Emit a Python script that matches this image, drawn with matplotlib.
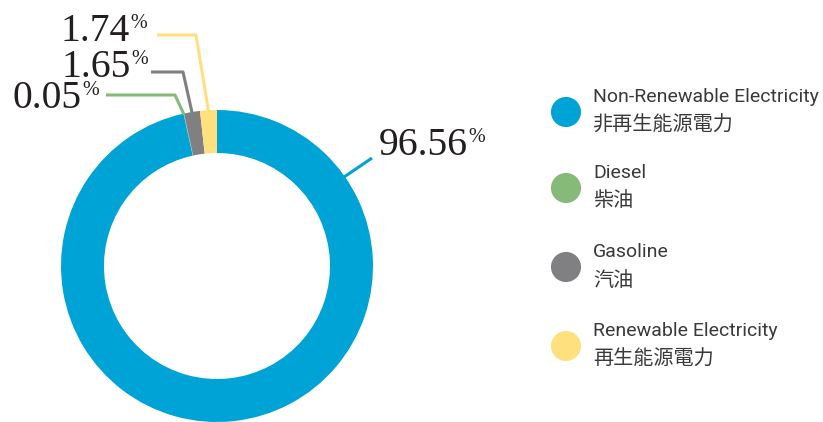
import numpy as np
import matplotlib.pyplot as plt

# datos
labels_en = ['Non-Renewable Electricity', 'Diesel', 'Gasoline', 'Renewable Electricity']
labels_zh = ['非再生能源電力', '柴油', '汽油', '再生能源電力']
values = [96.56, 0.05, 1.65, 1.74]
value_text = ['96.56', '0.05', '1.65', '1.74']
colors = ['#00A3D6', '#86BA78', '#808083', '#FFE07E']

W, H = 823, 422
fig = plt.figure(figsize=(W / 100, H / 100), dpi=100)
ax = fig.add_axes([0, 0, 1, 1])

cx, cy, r = 217, H - 266, 156
wedges, _ = ax.pie(values, colors=colors, startangle=90, counterclock=False,
                   center=(cx, cy), radius=r, frame=True,
                   wedgeprops=dict(width=43, edgecolor='none'))
ax.set_xlim(0, W)
ax.set_ylim(0, H)
ax.set_aspect('equal')
ax.axis('off')

num_font = dict(family=['Liberation Serif', 'DejaVu Serif'], color='#231F20')

# posiciones de etiquetas (pixeles): fin del numero, linea base, codo de la linea
label_pos = {
    0: dict(x=468, base=155, line=[(372, 158)], ang=35),
    1: dict(x=82, base=108, line=[(106, 95), (175, 95)]),
    2: dict(x=131, base=77, line=[(151, 72), (183, 72)]),
    3: dict(x=130, base=41, line=[(157, 35), (196, 35)]),
}

for i, w in enumerate(wedges):
    p = label_pos[i]
    ang = np.deg2rad(p.get('ang', (w.theta1 + w.theta2) / 2))
    px = cx + (r - 1) * np.cos(ang)
    py = cy + (r - 1) * np.sin(ang)
    pts = [(x, H - y) for x, y in p['line']] + [(px, py)]
    xs, ys = zip(*pts)
    ax.plot(xs, ys, color=colors[i], lw=2.2, solid_capstyle='butt', zorder=1)
    ax.text(p['x'], H - p['base'], value_text[i], ha='right', va='baseline',
            fontsize=28.5, **num_font)
    ax.text(p['x'], H - p['base'] + 27, '%', ha='left', va='top',
            fontsize=14.5, **num_font)

# leyenda
leg_y = [112, 188, 267, 346]
for i, y in enumerate(leg_y):
    ax.scatter([566], [H - y], s=470, color=colors[i], edgecolor='none')
    ax.text(593, H - y + 15, labels_en[i], ha='left', va='center', fontsize=14,
            family=['Roboto', 'DejaVu Sans'], color='#3A3A3A')
    ax.text(593, H - y - 13, labels_zh[i], ha='left', va='center', fontsize=14.5,
            family=['Noto Sans CJK TC', 'DejaVu Sans'], fontweight='light', color='#3A3A3A')

fig.savefig('out.png', dpi=100)
